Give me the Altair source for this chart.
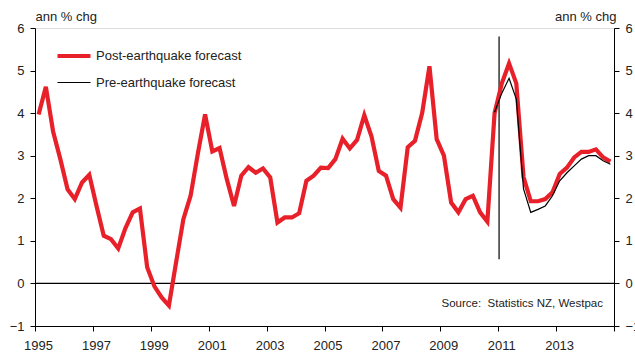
import altair as alt
import pandas as pd

# Quarterly series, annual % change
series_names = ["Post-earthquake forecast", "Pre-earthquake forecast"]

post_values = [
    3.97, 4.62, 3.57, 2.92,   # 1995
    2.21, 1.98, 2.37, 2.55,   # 1996
    1.82, 1.12, 1.04, 0.82,   # 1997
    1.30, 1.67, 1.76, 0.38,   # 1998
    -0.07, -0.33, -0.52, 0.50,  # 1999
    1.51, 2.06, 3.05, 3.97,   # 2000
    3.10, 3.18, 2.45, 1.82,   # 2001
    2.53, 2.73, 2.60, 2.70,   # 2002
    2.49, 1.43, 1.55, 1.55,   # 2003
    1.65, 2.41, 2.53, 2.72,   # 2004
    2.71, 2.92, 3.40, 3.17,   # 2005
    3.37, 3.95, 3.45, 2.64,   # 2006
    2.53, 1.98, 1.78, 3.20,   # 2007
    3.35, 4.01, 5.10, 3.39,   # 2008
    3.00, 1.90, 1.67, 1.98,   # 2009
    2.06, 1.67, 1.45, 4.00,   # 2010
    4.70, 5.17, 4.70, 2.50,   # 2011
    1.93, 1.93, 1.98, 2.14,   # 2012
    2.57, 2.72, 2.96, 3.09,   # 2013
    3.09, 3.15, 2.96, 2.86,   # 2014
]

# Pre-earthquake forecast runs from 2010 Q4 to 2014 Q4
pre_first_quarter = 63
pre_values = [
    4.02, 4.47, 4.82, 4.33, 2.22,
    1.67, 1.74, 1.82, 2.06,
    2.41, 2.60, 2.76, 2.92,
    3.00, 3.00, 2.88, 2.80,
]

# Earthquake marker (vertical rule)
quake_x = [2011.03]
quake_y = [0.57]
quake_y2 = [5.8]

year_ticks = list(range(1995, 2016))
y_ticks = list(range(-1, 7))
source_text = ["Source:\u00a0\u00a0Statistics NZ, Westpac"]

RED = "#E8202A"
FONT = "Liberation Sans"
TXT = "#222222"


def quarter_pos(i):
    return 1995 + (i + 0.5) / 4


post_df = pd.DataFrame({
    "t": [quarter_pos(i) for i in range(len(post_values))],
    "value": post_values,
    "series": series_names[0],
})
pre_df = pd.DataFrame({
    "t": [quarter_pos(pre_first_quarter + i) for i in range(len(pre_values))],
    "value": pre_values,
    "series": series_names[1],
})
lines_df = pd.concat([post_df, pre_df], ignore_index=True)

x_scale = alt.Scale(domain=[1995, 2015], nice=False, zero=False)
y_scale = alt.Scale(domain=[-1, 6], nice=False, zero=False)

x_axis = alt.Axis(
    values=year_ticks, format="d",
    labelExpr="(datum.value % 2 == 1 && datum.value < 2015) ? datum.label : ''",
    tickSize=5, tickColor="black", domainColor="black",
    labelFontSize=13, labelColor=TXT, labelFont=FONT,
    labelPadding=8, labelOffset=3, labelFlush=False, labelOverlap=False,
    grid=False, title=None,
)

left_axis = alt.Axis(
    values=y_ticks, orient="left",
    tickSize=5, tickColor="black", domainColor="black",
    labelFontSize=13, labelColor=TXT, labelFont=FONT, labelPadding=6,
    grid=False,
    title="ann % chg", titleAngle=0, titleX=0, titleY=-12,
    titleAlign="left", titleBaseline="middle", titleFontWeight="normal",
    titleFontSize=13, titleFont=FONT, titleColor=TXT,
)

right_axis = alt.Axis(
    values=y_ticks, orient="right",
    tickSize=5, tickColor="black", domainColor="black",
    labelFontSize=13, labelColor=TXT, labelFont=FONT, labelPadding=6,
    grid=False,
    title="ann % chg", titleAngle=0, titleX=2, titleY=-12,
    titleAlign="right", titleBaseline="middle", titleFontWeight="normal",
    titleFontSize=13, titleFont=FONT, titleColor=TXT,
)

legend = alt.Legend(
    orient="none", legendX=20, legendY=9, title=None,
    symbolType="stroke", symbolSize=1089, labelFontSize=13,
    labelFont=FONT, labelColor=TXT, labelOffset=3, rowPadding=0,
    padding=0,
)

base = alt.Chart(lines_df).mark_line(strokeJoin="miter").encode(
    x=alt.X("t:Q", scale=x_scale, axis=x_axis),
    y=alt.Y("value:Q", scale=y_scale, axis=left_axis),
    color=alt.Color("series:N", scale=alt.Scale(domain=series_names, range=[RED, "black"]), legend=legend),
    strokeWidth=alt.StrokeWidth("series:N", scale=alt.Scale(domain=series_names, range=[4.2, 1.2]), legend=legend),
    order="t:Q",
)

post_line = base.transform_filter(alt.datum.series == series_names[0])
pre_line = base.transform_filter(alt.datum.series == series_names[1])

zero_rule = alt.Chart(pd.DataFrame({"y": [0]})).mark_rule(color="black", strokeWidth=1.2).encode(
    y=alt.Y("y:Q", scale=y_scale)
)

quake_rule = alt.Chart(pd.DataFrame({"x": quake_x, "y": quake_y, "y2": quake_y2})).mark_rule(
    color="black", strokeWidth=1.2
).encode(
    x=alt.X("x:Q", scale=x_scale),
    y=alt.Y("y:Q", scale=y_scale),
    y2="y2:Q",
)

source = alt.Chart(pd.DataFrame({"text": source_text})).mark_text(
    align="right", baseline="middle", fontSize=11.5, font=FONT, color=TXT
).encode(x=alt.value(568), y=alt.value(276), text="text:N")

main = alt.layer(zero_rule, quake_rule, post_line, pre_line, source)

right = alt.Chart(pd.DataFrame({"y": y_ticks})).mark_point(opacity=0).encode(
    y=alt.Y("y:Q", scale=y_scale, axis=right_axis)
)

chart = alt.layer(main, right).resolve_scale(y="independent").properties(
    width=579, height=298,
    autosize=alt.AutoSizeParams(type="none"),
    padding={"left": 35, "top": 28, "right": 21, "bottom": 32},
).configure_view(stroke="#777777", strokeWidth=1).configure(background="white")

chart.save("out.html", embed_options={"renderer": "svg", "actions": False})
